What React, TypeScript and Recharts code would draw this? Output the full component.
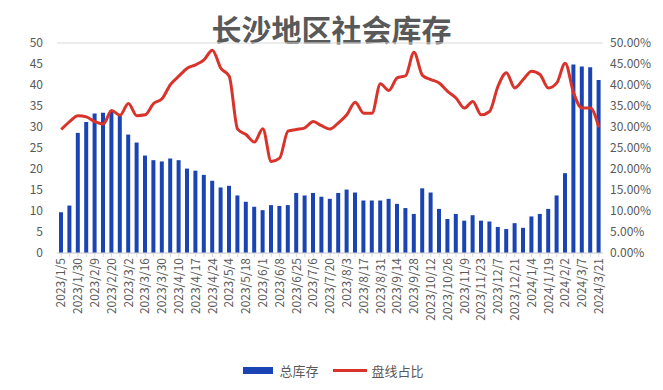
import { ComposedChart, Bar, Line, XAxis, YAxis, CartesianGrid, Legend } from 'recharts';

const dates = [
  '2023/1/5', '2023/1/12', '2023/1/30', '2023/2/2', '2023/2/9', '2023/2/14', '2023/2/20', '2023/2/24',
  '2023/3/2', '2023/3/9', '2023/3/16', '2023/3/23', '2023/3/30', '2023/4/6', '2023/4/10', '2023/4/13',
  '2023/4/17', '2023/4/20', '2023/4/24', '2023/4/27', '2023/5/4', '2023/5/11', '2023/5/18', '2023/5/25',
  '2023/6/1', '2023/6/5', '2023/6/8', '2023/6/15', '2023/6/25', '2023/6/29', '2023/7/6', '2023/7/13',
  '2023/7/20', '2023/7/27', '2023/8/3', '2023/8/10', '2023/8/17', '2023/8/24', '2023/8/31', '2023/9/7',
  '2023/9/14', '2023/9/21', '2023/9/28', '2023/10/5', '2023/10/12', '2023/10/19', '2023/10/26', '2023/11/2',
  '2023/11/9', '2023/11/16', '2023/11/23', '2023/11/30', '2023/12/7', '2023/12/14', '2023/12/21', '2023/12/28',
  '2024/1/4', '2024/1/11', '2024/1/19', '2024/1/26', '2024/2/2', '2024/2/23', '2024/3/7', '2024/3/14',
  '2024/3/21',
];

// 总库存
const stock = [
  9.7, 11.3, 28.6, 31.2, 33.2, 33.4, 33.9, 32.9, 28.2, 26.3, 23.2, 22.1, 21.8, 22.5, 22.1, 20.1,
  19.6, 18.6, 17.2, 15.6, 16.0, 13.7, 12.2, 11.0, 10.2, 11.4, 11.2, 11.4, 14.3, 13.7, 14.3, 13.4,
  12.9, 14.3, 15.1, 14.4, 12.5, 12.5, 12.5, 12.9, 11.7, 10.7, 9.3, 15.4, 14.4, 10.5, 8.1, 9.3,
  7.7, 9.0, 7.7, 7.5, 6.2, 5.7, 7.1, 6.0, 8.7, 9.3, 10.5, 13.7, 19.0, 44.9, 44.4, 44.2,
  41.2,
];

// 盘线占比 (%)
const ratio = [
  29.4, 31.3, 32.7, 32.4, 31.3, 30.7, 33.9, 32.8, 35.6, 32.7, 32.9, 35.6, 36.7, 40.1, 42.1, 44.0,
  44.8, 46.0, 48.3, 44.0, 42.1, 29.5, 28.2, 26.4, 29.6, 21.8, 22.6, 29.0, 29.4, 29.8, 31.3, 30.3,
  29.5, 31.0, 32.9, 35.9, 33.3, 33.3, 40.3, 38.7, 41.7, 42.2, 47.8, 42.3, 41.3, 40.5, 38.5, 36.9,
  34.5, 36.1, 32.9, 33.7, 39.7, 42.9, 39.3, 41.3, 43.3, 42.5, 39.3, 40.5, 45.2, 38.1, 34.5, 34.5,
  29.9,
];

const leftTicks = [0, 5, 10, 15, 20, 25, 30, 35, 40, 45, 50];
const rightTicks = [0, 0.05, 0.1, 0.15, 0.2, 0.25, 0.3, 0.35, 0.4, 0.45, 0.5];

const data = dates.map((d, i) => ({ date: d, stock: stock[i], ratio: ratio[i] / 100 }));

const FONT = '"Noto Sans CJK SC", "Noto Sans", sans-serif';
const GRAY = '#595959';
const BLUE = '#1a44b4';
const RED = '#d8342c';

// every category gets a tick mark, only every other one a label
function DateTick({ x, y, payload }: any) {
  if (payload.index % 2 === 1) return null;
  return (
    <text
      x={x}
      y={y}
      transform={`rotate(-90, ${x}, ${y})`}
      textAnchor="end"
      dy="0.35em"
      fontSize={12}
      fill={GRAY}
      fontFamily={FONT}
    >
      {payload.value}
    </text>
  );
}

function renderLegend() {
  return (
    <div style={{ display: 'flex', justifyContent: 'center', alignItems: 'center', fontSize: 13, color: GRAY, fontFamily: FONT, paddingLeft: 4 }}>
      <span style={{ display: 'inline-block', width: 30, height: 7, background: BLUE, marginRight: 6 }} />
      <span style={{ marginRight: 14 }}>总库存</span>
      <span style={{ display: 'inline-block', width: 34, height: 3, background: RED, marginRight: 5 }} />
      <span>盘线占比</span>
    </div>
  );
}

export default function App() {
  return (
    <div style={{ position: 'absolute', left: 0, top: 0, width: 663, height: 390, background: '#fff', fontFamily: FONT }}>
      <div style={{ position: 'absolute', top: 8, width: 663, textAlign: 'center', fontSize: 30, fontWeight: 700, color: GRAY, lineHeight: '40px' }}>
        长沙地区社会库存
      </div>
      <ComposedChart
        width={663}
        height={390}
        data={data}
        margin={{ top: 43, right: 0, left: 0, bottom: 5 }}
      >
        <CartesianGrid vertical={false} stroke="#d9d9d9" />
        <XAxis
          dataKey="date"
          interval={0}
          tick={<DateTick />}
          height={108}
          axisLine={{ stroke: '#d9d9d9' }}
          tickLine={{ stroke: '#d9d9d9' }}
          tickSize={4}
          tickMargin={1}
        />
        <YAxis
          yAxisId="left"
          domain={[0, 50]}
          ticks={leftTicks}
          width={57}
          axisLine={false}
          tickLine={false}
          tickSize={0}
          tickMargin={14}
          tick={{ fontSize: 12, fill: GRAY, fontFamily: FONT }}
        />
        <YAxis
          yAxisId="right"
          orientation="right"
          domain={[0, 0.5]}
          ticks={rightTicks}
          width={60}
          axisLine={false}
          tickLine={false}
          tickSize={0}
          tickMargin={7}
          tickFormatter={(v: number) => (v * 100).toFixed(2) + '%'}
          tick={{ fontSize: 12, fill: GRAY, fontFamily: FONT }}
        />
        <Legend verticalAlign="bottom" height={24} content={renderLegend} />
        <Bar yAxisId="left" dataKey="stock" name="总库存" fill={BLUE} barSize={4} isAnimationActive={false} />
        <Line
          yAxisId="right"
          type="monotone"
          dataKey="ratio"
          name="盘线占比"
          stroke={RED}
          strokeWidth={3}
          dot={false}
          isAnimationActive={false}
        />
      </ComposedChart>
    </div>
  );
}
